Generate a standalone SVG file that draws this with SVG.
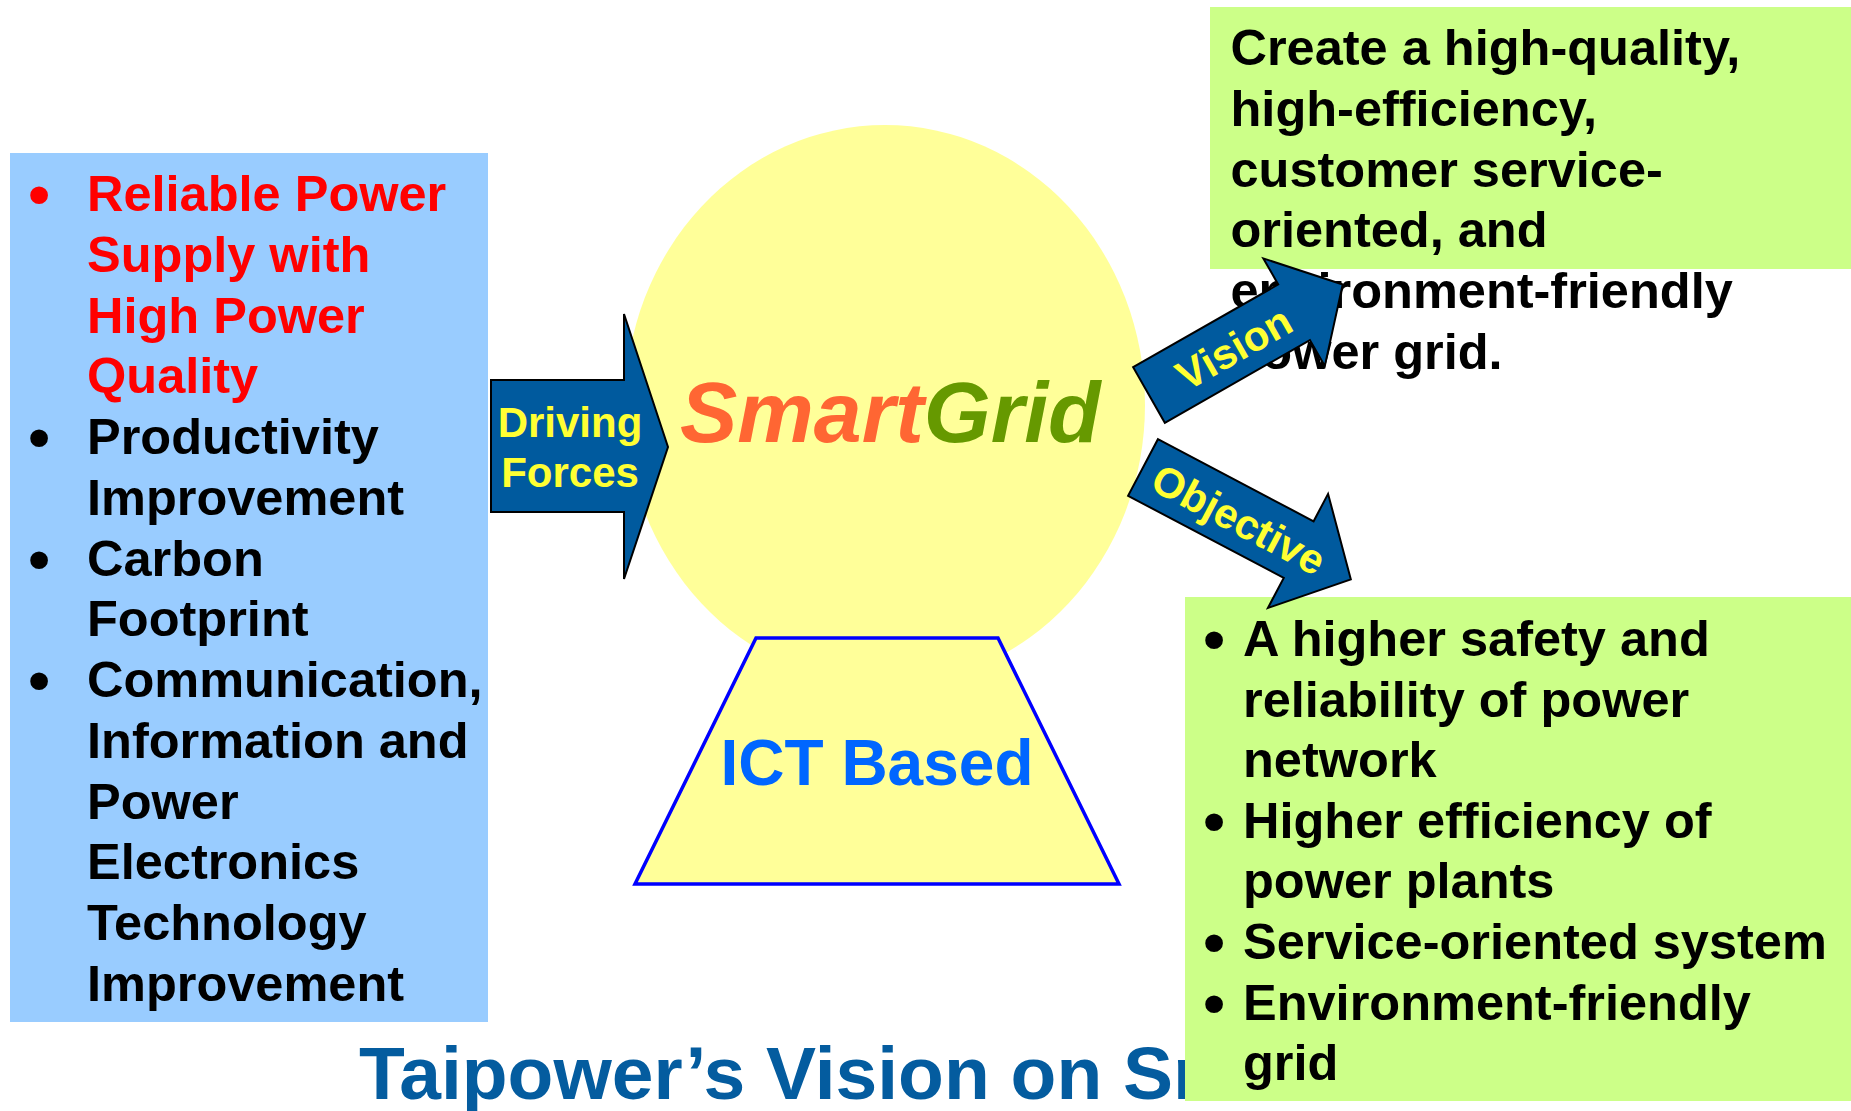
<svg xmlns="http://www.w3.org/2000/svg" width="1851" height="1111" viewBox="0 0 1851 1111">
  <style>
    text { font-family: "Liberation Sans", Arial, sans-serif; font-weight: bold; }
    .body { font-size: 50.5px; fill: #000000; }
    .red { fill: #FF0000; }
    .bul { font-size: 62px; text-anchor: middle; }
    .lbl { font-size: 42px; fill: #FFFF33; text-anchor: middle; }
    .arrow { fill: #005A9E; stroke: #000000; stroke-width: 2; stroke-linejoin: miter; }
    .green { fill: #CCFF88; }
  </style>

  <rect width="1851" height="1111" fill="#FFFFFF"/>

  <!-- slide title, partly covered by the objective panel -->
  <g id="title">
    <text x="359" y="1099" font-size="75" fill="#045C9F">Taipower’s Vision on Sm</text>
  </g>

  <!-- driving forces list: each bullet shares the text of its first line -->
  <g id="driving-forces-box">
    <rect x="10" y="153" width="478" height="869" fill="#99CCFF"/>
    <g class="body">
      <text class="red" x="87" y="211"><tspan class="bul" x="39" dy="4">•</tspan><tspan x="87" dy="-4">Reliable Power</tspan></text>
      <text class="red" x="87" y="271.75">Supply with</text>
      <text class="red" x="87" y="332.5">High Power</text>
      <text class="red" x="87" y="393.25">Quality</text>
      <text x="87" y="454"><tspan class="bul" x="39" dy="4">•</tspan><tspan x="87" dy="-4">Productivity</tspan></text>
      <text x="87" y="514.75">Improvement</text>
      <text x="87" y="575.5"><tspan class="bul" x="39" dy="4">•</tspan><tspan x="87" dy="-4">Carbon</tspan></text>
      <text x="87" y="636.25">Footprint</text>
      <text x="87" y="697"><tspan class="bul" x="39" dy="4">•</tspan><tspan x="87" dy="-4">Communication,</tspan></text>
      <text x="87" y="757.75">Information and</text>
      <text x="87" y="818.5">Power</text>
      <text x="87" y="879.25">Electronics</text>
      <text x="87" y="940">Technology</text>
      <text x="87" y="1000.75">Improvement</text>
    </g>
  </g>

  <!-- central smart grid disc -->
  <g id="smartgrid">
    <ellipse cx="885" cy="405" rx="260" ry="280" fill="#FFFF99"/>
    <text x="680" y="442" font-size="86" font-style="italic"><tspan fill="#FF6633">Smart</tspan><tspan fill="#669900">Grid</tspan></text>
  </g>

  <!-- ICT base -->
  <g id="ict-based">
    <polygon points="756,638 998,638 1119,884 635,884" fill="#FFFF99" stroke="#0000FF" stroke-width="3.5"/>
    <text x="877" y="785" font-size="64" fill="#0066FF" text-anchor="middle">ICT Based</text>
  </g>

  <!-- vision statement -->
  <g id="vision-box">
    <rect class="green" x="1210" y="7" width="641" height="262"/>
    <g class="body">
      <text x="1230.5" y="65">Create a high-quality,</text>
      <text x="1230.5" y="125.8">high-efficiency,</text>
      <text x="1230.5" y="186.6">customer service-</text>
      <text x="1230.5" y="247.4">oriented, and</text>
      <text x="1230.5" y="308.2">environment-friendly</text>
      <text x="1230.5" y="369">power grid.</text>
    </g>
  </g>

  <!-- objectives list -->
  <g id="objective-box">
    <rect class="green" x="1185" y="597" width="666" height="504"/>
    <g class="body">
      <text x="1243" y="656"><tspan class="bul" x="1214" dy="4">•</tspan><tspan x="1243" dy="-4">A higher safety and</tspan></text>
      <text x="1243" y="716.6">reliability of power</text>
      <text x="1243" y="777.2">network</text>
      <text x="1243" y="837.8"><tspan class="bul" x="1214" dy="4">•</tspan><tspan x="1243" dy="-4">Higher efficiency of</tspan></text>
      <text x="1243" y="898.4">power plants</text>
      <text x="1243" y="959"><tspan class="bul" x="1214" dy="4">•</tspan><tspan x="1243" dy="-4">Service-oriented system</tspan></text>
      <text x="1243" y="1019.6"><tspan class="bul" x="1214" dy="4">•</tspan><tspan x="1243" dy="-4">Environment-friendly</tspan></text>
      <text x="1243" y="1080.2">grid</text>
    </g>
  </g>

  <!-- block arrows linking the parts -->
  <g id="connectors">
    <g id="arrow-driving">
      <polygon class="arrow" points="491,380 624,380 624,314 668,447 624,579 624,512 491,512"/>
      <text class="lbl" x="570" y="437">Driving</text>
      <text class="lbl" x="570" y="487">Forces</text>
    </g>
    <g id="arrow-vision" transform="translate(1149,395) rotate(-29.7)">
      <polygon class="arrow" points="0,-32 167,-32 167,-62 223,0 167,62 167,32 0,32"/>
      <text class="lbl" x="97" y="16">Vision</text>
    </g>
    <g id="arrow-objective" transform="translate(1143,467.5) rotate(27.8)">
      <polygon class="arrow" points="0,-32 176,-32 176,-63 236,2 176,66 176,32 0,32"/>
      <text class="lbl" x="109" y="16">Objective</text>
    </g>
  </g>
</svg>
